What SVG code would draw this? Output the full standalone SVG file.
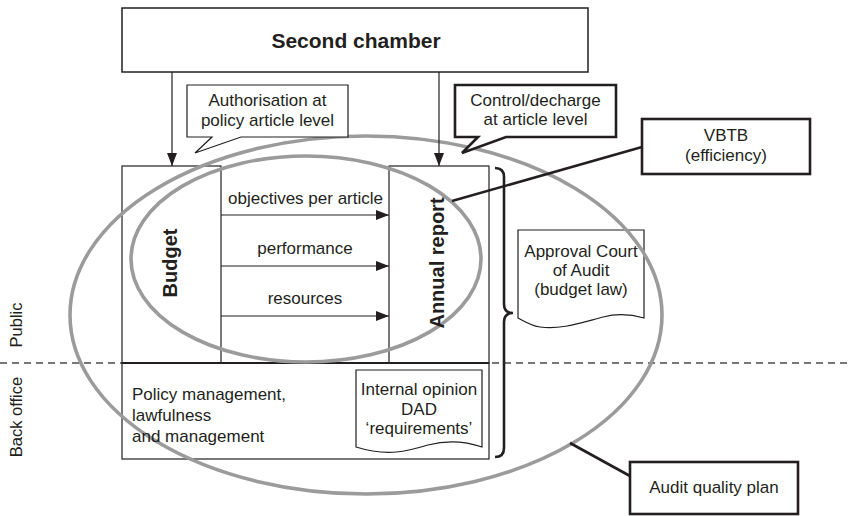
<svg xmlns="http://www.w3.org/2000/svg" width="851" height="516" viewBox="0 0 851 516">
  <defs>
    <style>
      .t { font-family: "Liberation Sans", Arial, Helvetica, sans-serif; font-size: 17px; fill: #231f20; }
      .c { text-anchor: middle; }
      .b { font-weight: bold; }
      .box { fill: #fff; stroke: #231f20; stroke-width: 1.2; }
      .thick { fill: #fff; stroke: #231f20; stroke-width: 2.6; }
      .ln { fill: none; stroke: #231f20; stroke-width: 1.2; }
      .heavy { fill: none; stroke: #231f20; stroke-width: 2.6; }
      .ell { fill: none; stroke: #9b9b9b; stroke-width: 3.6; }
      .dash { stroke: #4a4a4a; stroke-width: 1.3; stroke-dasharray: 7 5; }
    </style>
    <marker id="arrow" markerUnits="userSpaceOnUse" markerWidth="13" markerHeight="10" refX="13" refY="5" orient="auto">
      <path d="M0,0 L13,5 L0,10 Z" fill="#231f20"/>
    </marker>
  </defs>

  <!-- public / back office divider -->
  <line class="dash" x1="0" y1="363" x2="851" y2="363"/>
  <text class="t" transform="translate(22,325) rotate(-90)" text-anchor="middle" style="font-size:16.5px">Public</text>
  <text class="t" transform="translate(22,417) rotate(-90)" text-anchor="middle" style="font-size:16.5px">Back office</text>

  <!-- parliament -->
  <g id="second-chamber">
    <rect class="box" x="122" y="8" width="466" height="64" style="stroke-width:1.5"/>
    <text class="t c b" x="356" y="48" style="font-size:21px">Second chamber</text>
  </g>

  <!-- ministry blocks -->
  <g id="budget">
    <rect class="box" x="122" y="166" width="99" height="197"/>
  </g>
  <g id="annual-report">
    <rect class="box" x="389" y="166" width="100" height="197"/>
  </g>
  <g id="back-office">
    <rect class="box" x="122" y="363" width="367" height="96"/>
    <line class="ln" x1="122" y1="363" x2="489" y2="363" style="stroke-width:1.8"/>
  </g>
  <g id="internal-opinion">
    <path class="box" d="M356,370 H482 V447 C465,441 447,440 428,445 C408,451 388,457 356,447 Z"/>
  </g>
  <g id="approval">
    <path class="box" d="M518,230 H644 V318 C630,314 618,313 603,317 C580,323 560,330 540,327 C532,326 525,322 518,318 Z"/>
  </g>

  <!-- audit scopes -->
  <g id="scopes">
    <ellipse class="ell" cx="306" cy="259" rx="175" ry="103"/>
    <ellipse class="ell" cx="366" cy="315" rx="296" ry="179"/>
  </g>

  <!-- block texts -->
  <text class="t c b" transform="translate(177,263) rotate(-90)" style="font-size:20px">Budget</text>
  <text class="t c b" transform="translate(444,263) rotate(-90)" style="font-size:20px">Annual report</text>
  <text class="t" x="132" y="400">Policy management,</text>
  <text class="t" x="132" y="421">lawfulness</text>
  <text class="t" x="132" y="442">and management</text>
  <text class="t c" x="419" y="395">Internal opinion</text>
  <text class="t c" x="419" y="415">DAD</text>
  <text class="t c" x="419" y="434">‘requirements’</text>
  <text class="t c" x="581" y="257">Approval Court</text>
  <text class="t c" x="581" y="276">of Audit</text>
  <text class="t c" x="581" y="295">(budget law)</text>

  <!-- callouts -->
  <g id="authorisation">
    <path class="box" d="M187,85 H348 V137 H241 L195,153 L212,137 H187 Z"/>
    <text class="t c" x="267.5" y="106">Authorisation at</text>
    <text class="t c" x="267.5" y="126">policy article level</text>
  </g>
  <g id="control">
    <path class="thick" d="M455,85 H616 V137 H506 L462,153 L478,137 H455 Z"/>
    <text class="t c" x="535.5" y="106">Control/decharge</text>
    <text class="t c" x="535.5" y="125">at article level</text>
  </g>
  <g id="vbtb">
    <rect class="thick" x="642" y="119" width="168" height="55"/>
    <text class="t c" x="726" y="141">VBTB</text>
    <text class="t c" x="726" y="161">(efficiency)</text>
  </g>
  <g id="audit-quality-plan">
    <rect class="thick" x="630" y="462" width="168" height="52"/>
    <text class="t c" x="714" y="493">Audit quality plan</text>
  </g>

  <!-- connectors -->
  <g id="connectors">
    <line class="ln" x1="172" y1="72" x2="172" y2="166" marker-end="url(#arrow)"/>
    <line class="ln" x1="439" y1="72" x2="439" y2="166" marker-end="url(#arrow)"/>
    <line class="ln" x1="221" y1="215" x2="389" y2="215" marker-end="url(#arrow)"/>
    <line class="ln" x1="221" y1="266" x2="389" y2="266" marker-end="url(#arrow)"/>
    <line class="ln" x1="221" y1="316" x2="389" y2="316" marker-end="url(#arrow)"/>
    <line class="heavy" x1="642" y1="147" x2="452" y2="201"/>
    <line class="heavy" x1="630" y1="476" x2="570" y2="443"/>
    <path class="heavy" d="M495,168 Q504,168 504,177 V304 Q504,313 513,313 Q504,313 504,322 V448 Q504,457 495,457"/>
  </g>

  <!-- arrow labels -->
  <text class="t c" x="305.5" y="204">objectives per article</text>
  <text class="t c" x="305" y="254">performance</text>
  <text class="t c" x="305" y="304">resources</text>
</svg>
